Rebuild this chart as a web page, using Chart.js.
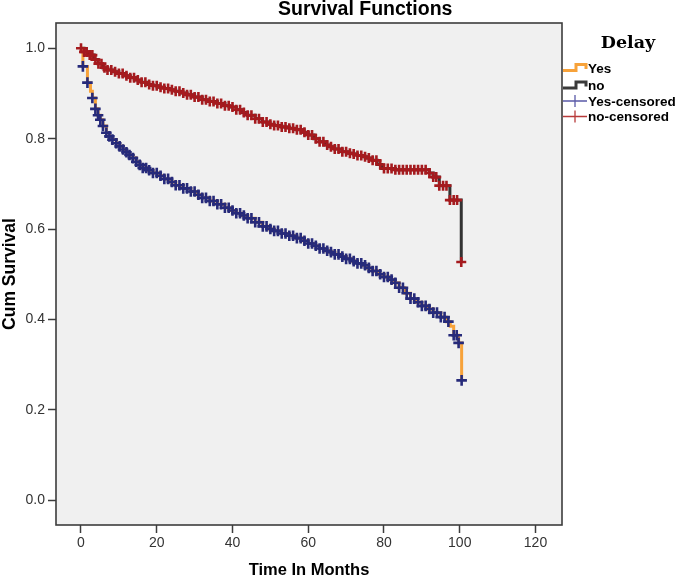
<!DOCTYPE html>
<html>
<head>
<meta charset="utf-8">
<script src="https://cdn.jsdelivr.net/npm/chart.js@4.4.1/dist/chart.umd.min.js"></script>
<style>
html,body{margin:0;padding:0;background:#fff;}
#wrap{position:relative;width:685px;height:578px;overflow:hidden;background:#fff;}
#c{position:absolute;left:0;top:0;}
#title{position:absolute;left:278px;top:-2px;font:bold 19.5px "Liberation Sans",Arial,sans-serif;line-height:20px;color:#000;white-space:nowrap;}
.lg{position:absolute;white-space:nowrap;color:#000;}
#lgTitle{left:570px;width:116px;text-align:center;top:34px;font:bold 17.5px "DejaVu Serif",serif;line-height:17.5px;}
.lgItem{left:588px;font:bold 13.5px "Liberation Sans",Arial,sans-serif;line-height:13.5px;}
#lgIcons{position:absolute;left:560px;top:55px;}
</style>
</head>
<body>
<div id="wrap">
<canvas id="c" width="685" height="578"></canvas>
<div id="title">Survival Functions</div>
<div class="lg" id="lgTitle">Delay</div>
<div class="lg lgItem" style="top:61.5px">Yes</div>
<div class="lg lgItem" style="top:79px">no</div>
<div class="lg lgItem" style="top:94.5px">Yes-censored</div>
<div class="lg lgItem" style="top:110px">no-censored</div>
<svg id="lgIcons" width="30" height="75" xmlns="http://www.w3.org/2000/svg">
  <path d="M3,15.5 H16 V9.5 H26 V14" fill="none" stroke="#f7a23a" stroke-width="3"/>
  <path d="M3,33 H16 V27 H26 V31.5" fill="none" stroke="#3a3a3a" stroke-width="3"/>
  <path d="M3,46 H27 M15,40 V52" fill="none" stroke="#5a5aa8" stroke-width="1.3"/>
  <path d="M3,61.5 H27 M15,55.5 V67.5" fill="none" stroke="#b83a3a" stroke-width="1.3"/>
</svg>
</div>
<script>
// ---- data ----
const yesTime = [0,0.5,1.7,2.5,3.0,3.8,4.5,5.1,5.8,6.7,7.5,8.3,9.3,10.2,11.1,12.0,12.8,13.7,14.6,15.5,16.3,17.5,19,20.5,22,23.3,25,27,29,30.5,32,34,36,38,39.5,41,42.5,44,46,47.9,49.5,51,53,55,56.8,58.5,60,61.5,63,64.5,65.5,67,68.5,70,71.5,73,74.2,75.5,77,78.5,80,81.3,82.5,84,85.5,87,88.5,90,91.5,93,95,96.5,97.5,98.4,99.7,100.5];
const yesSurv = [1.0,0.96,0.924,0.905,0.89,0.866,0.852,0.842,0.828,0.813,0.805,0.798,0.790,0.783,0.776,0.770,0.764,0.757,0.749,0.742,0.735,0.730,0.724,0.718,0.711,0.704,0.697,0.690,0.683,0.676,0.669,0.662,0.655,0.647,0.641,0.635,0.630,0.624,0.615,0.606,0.600,0.596,0.590,0.585,0.580,0.574,0.568,0.563,0.557,0.552,0.549,0.544,0.539,0.534,0.529,0.524,0.520,0.514,0.507,0.500,0.494,0.488,0.481,0.470,0.458,0.446,0.438,0.430,0.423,0.415,0.405,0.395,0.385,0.365,0.348,0.265];
const noTime = [0,0.8,2,3.5,4.5,5.7,7,8.5,10,11.5,13,14.6,16,17.5,19,20.5,22,23.3,25,26.5,28,30,32,34,36,38,39.2,41,42.5,44,46,47.9,49.5,51,53,55,56.8,58.5,60,61.5,63,64.5,65.5,67,68.9,70.5,72,73,74.2,75.5,77,78.2,79.4,83,92,93,94.6,97.4,100.4];
const noSurv = [1.0,0.992,0.985,0.975,0.966,0.957,0.952,0.948,0.944,0.939,0.935,0.930,0.925,0.920,0.917,0.914,0.911,0.908,0.905,0.901,0.897,0.892,0.886,0.882,0.878,0.873,0.870,0.864,0.858,0.852,0.844,0.837,0.832,0.829,0.826,0.823,0.820,0.814,0.808,0.800,0.793,0.786,0.782,0.777,0.771,0.768,0.766,0.763,0.760,0.757,0.752,0.743,0.734,0.731,0.724,0.715,0.696,0.664,0.527];
const yesCensorTime = [0.5,1.7,3,3.8,4.5,5.1,5.8,6.7,7.5,8.3,9.3,10.2,11.1,12,12.8,13.7,14.6,15.5,16.3,17.2,18,19,20,21,22,23,24,25,26,27,28,29,30,31,32,33,34,35,36,37,38,39,40,41,42,43,44,45,46,47,48,49,50,51,52,53,54,55,56,57,58,59,60,61,62,63,64,65,66,67,68,69,70,71,72,73,74,75,76,77,78,79,80,81,82,83,84,85,86,87,88,89,90,91,92,93,94,95,96,97,98.4,99.2,99.7,100.5];
const noCensorTime = [0,0.8,1.5,2.3,3,3.8,4.6,5.4,6.2,7,8,9,10,11,12,13,14,15,16,17,18,19,20,21,22,23,24,25,26,27,28,29,30,31,32,33,34,35,36,37,38,39,40,41,42,43,44,45,46,47,48,49,50,51,52,53,54,55,56,57,58,59,60,61,62,63,64,65,66,67,68,69,70,71,72,73,74,75,76,77,78,79,80,81,82,83,84,85,86,87,88,89,90,91,92,93,93.8,94.6,95.6,96.5,97.4,98.4,99.3,100.4];
const xTickValues = [0,20,40,60,80,100,120];
const yTickValues = [0.0,0.2,0.4,0.6,0.8,1.0];
const seriesNames = ['Yes','no','Yes-censored','no-censored'];

function survAt(times, surv, t){
  let s = surv[0];
  for (let i = 0; i < times.length; i++) {
    if (times[i] <= t + 1e-9) s = surv[i]; else break;
  }
  return s;
}
const pts = (ts, ss) => ts.map((t,i)=>({x:t, y:ss[i]}));
const cens = (ct, ts, ss) => ct.map(t=>({x:t, y:survAt(ts, ss, t)}));

const FONT = '"Liberation Sans", Arial, sans-serif';

const bgPlugin = {
  id:'bg',
  beforeDraw(chart){
    const {ctx, chartArea:a} = chart;
    ctx.save();
    ctx.fillStyle = '#ffffff';
    ctx.fillRect(0,0,chart.width,chart.height);
    ctx.fillStyle = '#f0f0f0';
    ctx.fillRect(a.left, a.top, a.right-a.left, a.bottom-a.top);
    ctx.restore();
  },
  beforeDatasetsDraw(chart){
    const {ctx, chartArea:a} = chart;
    ctx.save();
    ctx.strokeStyle = '#3c3c3c';
    ctx.lineWidth = 1.6;
    ctx.strokeRect(a.left, a.top, a.right-a.left, a.bottom-a.top);
    ctx.restore();
  }
};

new Chart(document.getElementById('c'), {
  type:'scatter',
  data:{
    datasets:[
      {label:seriesNames[0], data:pts(yesTime,yesSurv), showLine:true, stepped:true, borderColor:'#f7a23a', borderWidth:3, pointRadius:0, order:3},
      {label:seriesNames[1], data:pts(noTime,noSurv), showLine:true, stepped:true, borderColor:'#333333', borderWidth:3, pointRadius:0, order:3},
      {label:seriesNames[2], data:cens(yesCensorTime,yesTime,yesSurv), showLine:false, pointStyle:'cross', pointRadius:5.3, borderColor:'#262a7a', borderWidth:2.6, order:1},
      {label:seriesNames[3], data:cens(noCensorTime,noTime,noSurv), showLine:false, pointStyle:'cross', pointRadius:5, borderColor:'#a51a1e', borderWidth:2.6, order:1}
    ]
  },
  options:{
    responsive:false,
    animation:false,
    events:[],
    layout:{padding:{left:0, top:23, right:123, bottom:0}},
    plugins:{legend:{display:false}, tooltip:{enabled:false}, title:{display:false}},
    scales:{
      x:{
        type:'linear', min:-6.6, max:127,
        afterBuildTicks:s=>{ s.ticks = xTickValues.map(v=>({value:v})); },
        afterFit:s=>{ s.height = 53; },
        grid:{display:true, drawOnChartArea:false, drawTicks:true, tickLength:8, tickWidth:1.5, tickColor:'#3c3c3c'},
        border:{display:false},
        ticks:{font:{family:FONT, size:14}, color:'#333', padding:2, maxRotation:0, autoSkip:false, callback:v=>String(v)},
        title:{display:true, text:'Time In Months', color:'#000', font:{family:FONT, size:16.5, weight:'bold'}, padding:{top:0,bottom:-2}}
      },
      y:{
        type:'linear', min:-0.055, max:1.056,
        afterBuildTicks:s=>{ s.ticks = yTickValues.map(v=>({value:v})); },
        afterFit:s=>{ s.width = 56; },
        grid:{display:true, drawOnChartArea:false, drawTicks:true, tickLength:8, tickWidth:1.5, tickColor:'#3c3c3c'},
        border:{display:false},
        ticks:{font:{family:FONT, size:14}, color:'#333', padding:3, autoSkip:false, callback:v=>Number(v).toFixed(1)},
        title:{display:true, text:'Cum Survival', color:'#000', font:{family:FONT, size:17.5, weight:'bold'}, padding:{top:0,bottom:0}}
      }
    }
  },
  plugins:[bgPlugin]
});
</script>
</body>
</html>
